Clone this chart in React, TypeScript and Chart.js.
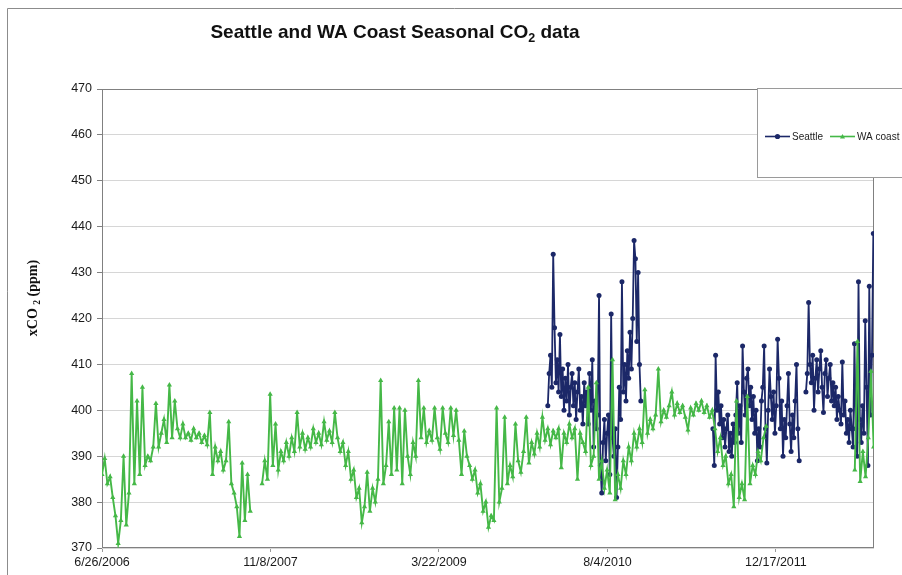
import { useEffect, useRef } from "react";
import { Chart, registerables } from "chart.js";

Chart.register(...registerables);

// ---------- data ----------
// x positions are days since 6/26/2006; samples every *_STEP days within each run
const WA_STEP = 8;
const SEA_STEP = 4;
const X_MAX_DAY = 2291;

const xTickDays = [0, 500, 1000, 1500, 2000];
const xTickLabels = ["6/26/2006", "11/8/2007", "3/22/2009", "8/4/2010", "12/17/2011"];

const yMin = 370;
const yMax = 470;
const yStep = 10;

// WA coast – run 1 (starts 6/26/2006)
const waStart1 = 0;
const waVals1 = [
  386, 389.5, 384, 385.5, 381, 377, 371, 376, 390, 375,
  382, 408, 384, 402, 386, 405, 388, 390, 389, 392,
  401.5, 392, 395, 398, 393, 405.5, 394, 402, 396, 394,
  397, 394, 395, 393.5, 396, 394, 395, 393, 394.5, 392.5,
  399.5, 386, 392, 389, 391, 387, 389, 397.5, 384, 382,
  379, 372.5, 388.5, 376, 386, 378,
];

// WA coast – run 2
const waStart2 = 475;
const waVals2 = [
  384, 389, 385, 403.5, 388, 397, 387, 391, 389, 393,
  390, 394, 391, 399.5, 392, 395, 391.5, 394, 392, 396,
  393, 395, 392.5, 397.5, 393.5, 395.5, 393, 399.5, 394, 391,
  393, 388, 391, 385, 387, 381, 383, 375.5, 379, 386.5,
  378, 383, 380, 385, 406.5, 384, 388, 397.5, 386, 400.5,
  387, 400.5, 384, 400, 390, 386, 393, 390, 406.5, 394,
  400.5, 393, 395.5, 393.5, 400.5, 394, 391.5, 400.5, 395, 393,
  400.5, 394.5, 400, 393.5, 386, 395.5, 390, 388, 385, 387,
  382, 384, 378, 380, 374.5, 377, 376, 400.5, 380, 383,
  398.5, 384, 388, 385.5, 397, 389, 386.5, 391, 398.5, 388.5,
  393, 390.5, 395, 392, 398.5, 393.5, 396, 392.5, 395.5, 394,
  396, 387.5, 395, 393, 397, 394, 396, 385, 395, 393,
  391, 405, 388, 390, 406, 385, 389, 383, 387, 382,
  411, 380.5, 386, 383, 389, 386, 392, 389, 395, 392,
  396, 393, 404.5, 395, 398, 396, 399, 409, 397.5, 400,
  398.5, 401, 404, 399, 401.5, 399.5, 401, 398.5, 395.7, 400.5,
  399, 401.5, 400, 402, 399.5, 401, 398.5, 400, 396, 391,
  394, 388, 390, 384, 386, 379, 402, 381, 384, 380.5,
  403, 384, 388, 386, 391, 389, 394, 396.5,
];

// WA coast – run 3
const waStart3 = 2234;
const waVals3 = [387, 415, 384.5, 391, 385.5, 394, 408.5, 392];

// Seattle – run A
const seaStartA = 1323;
const seaValsA = [
  401, 408, 412, 405, 434, 418, 406, 411, 404, 416.5,
  403, 409, 400, 407, 402, 410, 399, 405, 408, 401,
  406, 398, 404, 409, 400, 403, 397, 406, 401, 404,
  397, 408, 400, 411, 392, 402, 396, 399, 425, 388,
  382, 393, 398, 389, 395, 399, 386, 421, 394, 390,
  396, 381, 392, 405, 398, 428, 404, 410, 402, 413,
  407, 417, 409, 420, 437, 433, 415, 430, 410, 402,
];

// Seattle – run B
const seaStartB = 1813;
const seaValsB = [
  396, 388, 412, 400, 404, 397, 401, 394, 398, 392,
  396, 399, 391, 395, 390, 397, 393, 399, 406, 395,
  401, 393, 414, 404, 399, 407, 409, 401, 405, 398,
  403, 395, 400, 389, 396, 392, 402, 405, 414, 396,
  388.5, 400, 409, 403, 398, 404, 395, 401, 415.5, 407,
  396, 402, 390, 398, 394, 401, 408, 397, 391, 399,
  394, 402, 410, 396, 389,
];

// Seattle – run C
const seaStartC = 2089;
const seaValsC = [
  404, 408, 423.5, 410, 406, 412, 400, 407, 411, 404,
  409, 413, 405, 399.5, 408, 411, 403, 407, 410, 402,
  406, 401, 405, 398, 403, 400, 397, 410.5, 399, 402,
  395, 398, 393, 400, 396, 392, 414.5, 396, 390, 428,
  398, 393, 401, 395, 419.5, 405, 388, 427, 399, 412, 438.5,
];

const SEATTLE_COLOR = "#1c2868";
const WA_COLOR = "#45b847";
const SANS = "'Liberation Sans', Arial, sans-serif";
const SERIF = "'Liberation Serif', 'Times New Roman', serif";

type Pt = { x: number; y: number | null };

function runs(step: number, parts: [number, number[]][]): Pt[] {
  const out: Pt[] = [];
  parts.forEach(([start, vals], k) => {
    if (k > 0) out.push({ x: start - step / 2, y: null });
    vals.forEach((v, i) => out.push({ x: start + i * step, y: v }));
  });
  return out;
}

const decor = {
  id: "decor",
  beforeDatasetsDraw(chart: any) {
    const { ctx, chartArea: a } = chart;
    ctx.save();
    ctx.strokeStyle = "#808080";
    ctx.lineWidth = 1;
    ctx.strokeRect(
      Math.round(a.left) + 0.5,
      Math.round(a.top) + 0.5,
      Math.round(a.right - a.left) - 1,
      Math.round(a.bottom - a.top) - 1
    );
    ctx.restore();
  },
  afterDraw(chart: any) {
    const { ctx } = chart;
    ctx.save();
    // outer chart frame
    ctx.strokeStyle = "#8c8c8c";
    ctx.lineWidth = 1;
    ctx.beginPath();
    ctx.moveTo(7.5, 575);
    ctx.lineTo(7.5, 8.5);
    ctx.lineTo(902, 8.5);
    ctx.stroke();

    // title with subscript
    ctx.fillStyle = "#111";
    ctx.textBaseline = "alphabetic";
    ctx.textAlign = "left";
    const big = `bold 19px ${SANS}`;
    const small = `bold 12.5px ${SANS}`;
    const t1 = "Seattle and WA Coast Seasonal CO";
    const t2 = "2";
    const t3 = " data";
    ctx.font = big;
    const w1 = ctx.measureText(t1).width;
    const w3 = ctx.measureText(t3).width;
    ctx.font = small;
    const w2 = ctx.measureText(t2).width;
    const total = w1 + w2 + w3;
    let tx = 395 - total / 2;
    const ty = 38;
    ctx.font = big;
    ctx.fillText(t1, tx, ty);
    tx += w1;
    ctx.font = small;
    ctx.fillText(t2, tx, ty + 4);
    tx += w2;
    ctx.font = big;
    ctx.fillText(t3, tx, ty);

    // y axis title (rotated) with subscript
    ctx.save();
    ctx.translate(37, 298);
    ctx.rotate(-Math.PI / 2);
    const yb = `bold 14px ${SERIF}`;
    const ys = `bold 9.5px ${SERIF}`;
    const p1 = "xCO ";
    const p2 = "2";
    const p3 = " (ppm)";
    ctx.font = yb;
    const q1 = ctx.measureText(p1).width;
    const q3 = ctx.measureText(p3).width;
    ctx.font = ys;
    const q2 = ctx.measureText(p2).width;
    let yx = -(q1 + q2 + q3) / 2;
    ctx.fillStyle = "#111";
    ctx.font = yb;
    ctx.fillText(p1, yx, 0);
    yx += q1;
    ctx.font = ys;
    ctx.fillText(p2, yx, 3);
    yx += q2;
    ctx.font = yb;
    ctx.fillText(p3, yx, 0);
    ctx.restore();

    // legend box
    ctx.fillStyle = "#ffffff";
    ctx.fillRect(757, 88, 160, 89);
    ctx.strokeStyle = "#9a9a9a";
    ctx.lineWidth = 1;
    ctx.strokeRect(757.5, 88.5, 160, 89);
    const ly = 136;
    const item = (x0: number, color: string, label: string, style: string) => {
      ctx.strokeStyle = color;
      ctx.lineWidth = 1.6;
      ctx.beginPath();
      ctx.moveTo(x0, ly + 0.5);
      ctx.lineTo(x0 + 25, ly + 0.5);
      ctx.stroke();
      ctx.fillStyle = color;
      ctx.beginPath();
      if (style === "circle") {
        ctx.arc(x0 + 12.5, ly + 0.5, 2.6, 0, Math.PI * 2);
      } else {
        ctx.moveTo(x0 + 12.5, ly - 2);
        ctx.lineTo(x0 + 15, ly + 2.5);
        ctx.lineTo(x0 + 10, ly + 2.5);
        ctx.closePath();
      }
      ctx.fill();
      ctx.fillStyle = "#222";
      ctx.font = `10px ${SANS}`;
      ctx.textBaseline = "middle";
      ctx.fillText(label, x0 + 27, ly + 1);
    };
    item(765, SEATTLE_COLOR, "Seattle", "circle");
    item(830, WA_COLOR, "WA coast", "triangle");
    ctx.restore();
  },
};

export default function App() {
  const ref = useRef<HTMLCanvasElement | null>(null);

  useEffect(() => {
    if (!ref.current) return;
    const seattle = runs(SEA_STEP, [
      [seaStartA, seaValsA],
      [seaStartB, seaValsB],
      [seaStartC, seaValsC],
    ]);
    const wa = runs(WA_STEP, [
      [waStart1, waVals1],
      [waStart2, waVals2],
      [waStart3, waVals3],
    ]);
    const chart = new Chart(ref.current, {
      type: "line",
      data: {
        datasets: [
          {
            label: "Seattle",
            data: seattle as any,
            borderColor: SEATTLE_COLOR,
            backgroundColor: SEATTLE_COLOR,
            borderWidth: 1.8,
            pointRadius: 2.5,
            pointStyle: "circle",
            pointBorderWidth: 0,
            spanGaps: false,
            order: 1,
          },
          {
            label: "WA coast",
            data: wa as any,
            borderColor: WA_COLOR,
            backgroundColor: WA_COLOR,
            borderWidth: 1.9,
            pointRadius: 3,
            pointStyle: "triangle",
            pointBorderWidth: 0,
            spanGaps: false,
            order: 0,
          },
        ],
      },
      options: {
        responsive: false,
        animation: false,
        layout: { padding: { left: 0, top: 89, right: 28, bottom: 0 } },
        plugins: {
          legend: { display: false },
          title: { display: false },
          tooltip: { enabled: false },
        },
        scales: {
          x: {
            type: "linear",
            min: 0,
            max: X_MAX_DAY,
            afterFit: (s: any) => {
              s.height = 27;
            },
            afterBuildTicks: (s: any) => {
              s.ticks = xTickDays.map((v) => ({ value: v }));
            },
            grid: {
              drawOnChartArea: false,
              drawTicks: true,
              tickLength: 4,
              tickColor: "#9a9a9a",
            },
            border: { display: false },
            ticks: {
              padding: 3,
              maxRotation: 0,
              autoSkip: false,
              color: "#1a1a1a",
              font: { family: SANS, size: 12.5 },
              callback: (v: any) => {
                const k = xTickDays.indexOf(Number(v));
                return k >= 0 ? xTickLabels[k] : "";
              },
            },
          },
          y: {
            min: yMin,
            max: yMax,
            afterFit: (s: any) => {
              s.width = 102;
            },
            grid: {
              color: "#d6d6d6",
              lineWidth: 1,
              drawTicks: true,
              tickLength: 5,
              tickColor: "#808080",
            },
            border: { display: false },
            ticks: {
              stepSize: yStep,
              padding: 5,
              color: "#1a1a1a",
              font: { family: SANS, size: 12.5 },
            },
          },
        },
      },
      plugins: [decor],
    });
    return () => chart.destroy();
  }, []);

  return (
    <div style={{ position: "fixed", left: 0, top: 0, width: 902, height: 575, background: "#fff" }}>
      <canvas ref={ref} width={902} height={575} style={{ display: "block" }} />
    </div>
  );
}
